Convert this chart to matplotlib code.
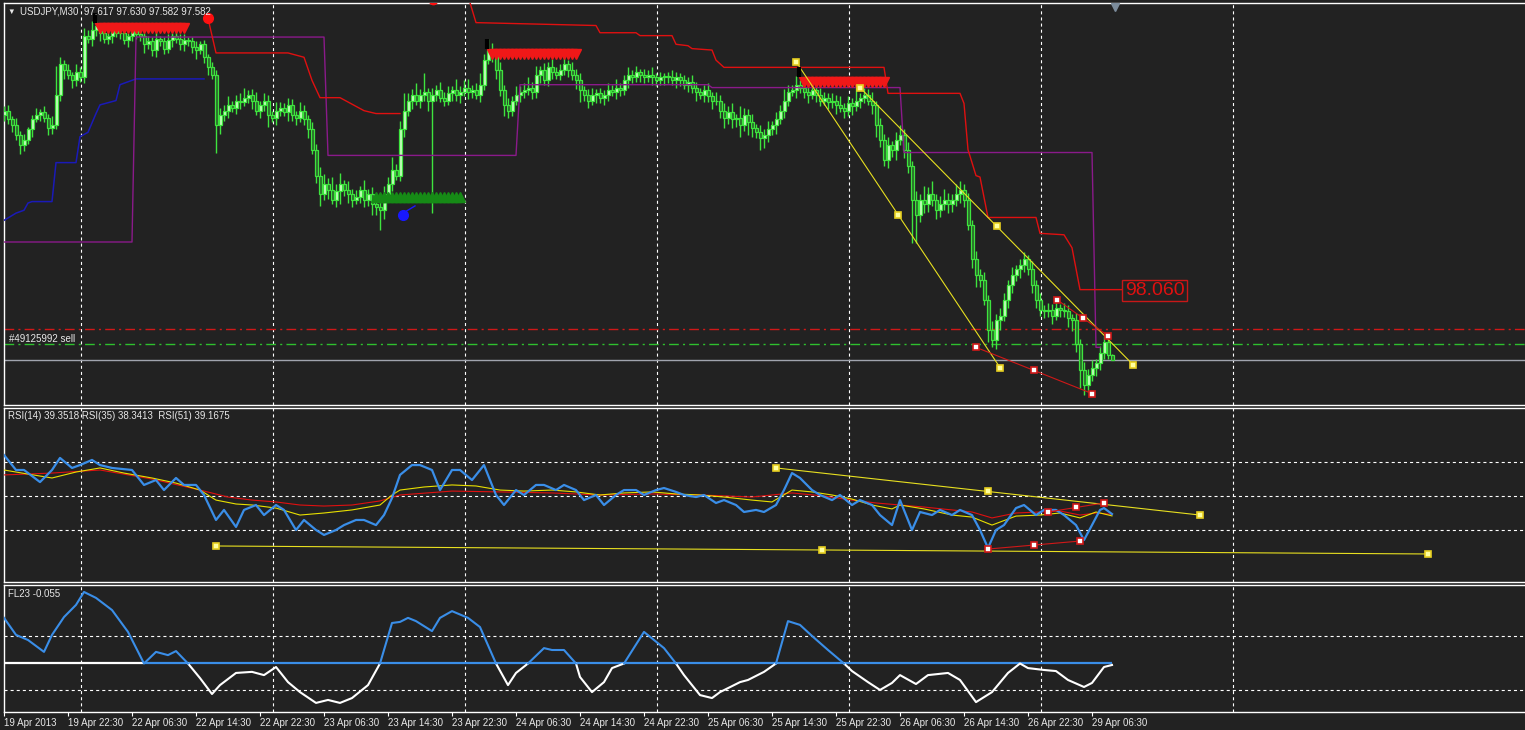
import numpy as np
import matplotlib.pyplot as plt

plt.rcParams['font.family'] = ['Liberation Sans', 'DejaVu Sans']
plt.rcParams['lines.scale_dashes'] = False

# ---------------- data ----------------
# USDJPY M30 closes, one per bar, bar 0 = 19 Apr 14:30
close = [
    99.31, 99.25, 99.21, 99.14, 99.07, 99.11, 99.18, 99.25, 99.28, 99.30,
    99.26, 99.19, 99.21, 99.42, 99.63, 99.59, 99.56, 99.52, 99.58, 99.54,
    99.83, 99.81, 99.87, 99.90, 99.85, 99.81, 99.83, 99.87, 99.85, 99.85,
    99.80, 99.83, 99.87, 99.84, 99.83, 99.77, 99.79, 99.73, 99.81, 99.79,
    99.74, 99.80, 99.83, 99.81, 99.77, 99.80, 99.79, 99.75, 99.73, 99.77,
    99.68, 99.61, 99.56, 99.21, 99.28, 99.31, 99.35, 99.33, 99.38, 99.37,
    99.40, 99.42, 99.38, 99.31, 99.35, 99.38, 99.28, 99.26, 99.31, 99.33,
    99.30, 99.35, 99.28, 99.26, 99.31, 99.25, 99.18, 99.04, 98.86, 98.73,
    98.80, 98.76, 98.69, 98.75, 98.80, 98.76, 98.73, 98.69, 98.71, 98.76,
    98.69, 98.73, 98.66, 98.64, 98.62, 98.73, 98.80, 98.90, 98.86, 99.18,
    99.31, 99.38, 99.42, 99.38, 99.42, 99.44, 99.38, 99.42, 99.45, 99.40,
    99.38, 99.43, 99.45, 99.42, 99.44, 99.47, 99.44, 99.45, 99.42, 99.49,
    99.66, 99.73, 99.70, 99.59, 99.45, 99.35, 99.31, 99.38, 99.42, 99.44,
    99.45, 99.47, 99.44, 99.56, 99.59, 99.52, 99.61, 99.58, 99.56, 99.59,
    99.63, 99.59, 99.56, 99.52, 99.45, 99.42, 99.38, 99.42, 99.43, 99.40,
    99.42, 99.45, 99.44, 99.47, 99.45, 99.52, 99.56, 99.54, 99.58, 99.56,
    99.54, 99.56, 99.54, 99.52, 99.54, 99.55, 99.54, 99.52, 99.54, 99.52,
    99.49, 99.51, 99.47, 99.44, 99.42, 99.45, 99.41, 99.38, 99.38, 99.31,
    99.26, 99.30, 99.25, 99.26, 99.21, 99.28, 99.23, 99.19, 99.16, 99.12,
    99.14, 99.18, 99.21, 99.25, 99.31, 99.38, 99.44, 99.45, 99.49, 99.47,
    99.44, 99.42, 99.45, 99.42, 99.38, 99.40, 99.37, 99.38, 99.35, 99.33,
    99.31, 99.36, 99.34, 99.38, 99.40, 99.42, 99.38, 99.35, 99.21, 99.11,
    98.97, 99.07, 99.04, 99.11, 99.14, 99.04, 98.93, 98.69, 98.59, 98.69,
    98.66, 98.73, 98.69, 98.62, 98.66, 98.69, 98.66, 98.69, 98.73, 98.76,
    98.69, 98.52, 98.28, 98.17, 98.14, 98.00, 97.79, 97.72, 97.86, 97.89,
    98.00, 98.10, 98.17, 98.21, 98.24, 98.28, 98.21, 98.10, 98.00, 97.93,
    97.92, 97.93, 97.89, 97.94, 97.93, 97.92, 97.87, 97.86, 97.69, 97.51,
    97.41, 97.48, 97.53, 97.56, 97.63, 97.71, 97.617, 97.582,
]
first_open = 99.28
# wick lengths in pips
up_wick = [
    3, 4, 2, 5, 3, 4, 2, 3, 5, 2, 4, 3, 6, 20, 5, 3, 4, 2, 5, 3,
    5, 4, 6, 3, 2, 4, 3, 5, 2, 3, 4, 2, 3, 5, 3, 2, 4, 3, 5, 2,
    3, 4, 2, 5, 3, 4, 2, 3, 4, 2, 3, 2, 4, 3, 5, 4, 6, 3, 4, 5,
    7, 3, 4, 6, 3, 5, 4, 3, 6, 4, 3, 5, 4, 3, 6, 4, 3, 5, 4, 6,
    7, 4, 9, 5, 8, 3, 6, 4, 5, 3, 7, 4, 5, 3, 4, 6, 5, 9, 4, 6,
    12, 5, 4, 8, 4, 13, 3, 5, 4, 6, 4, 5, 3, 8, 4, 5, 6, 4, 5, 8,
    4, 8, 5, 4, 6, 4, 5, 3, 6, 4, 5, 7, 4, 6, 3, 5, 4, 6, 3, 4,
    5, 3, 6, 4, 5, 3, 4, 5, 3, 4, 3, 5, 4, 6, 3, 4, 5, 3, 4, 2,
    4, 3, 5, 3, 4, 2, 3, 5, 4, 3, 4, 3, 5, 4, 3, 4, 5, 3, 6, 4,
    5, 4, 6, 3, 8, 5, 4, 6, 3, 5, 4, 6, 3, 5, 4, 8, 5, 4, 6, 3,
    5, 4, 6, 3, 5, 4, 3, 5, 4, 6, 3, 5, 4, 10, 3, 5, 4, 6, 3, 5,
    4, 6, 3, 5, 7, 4, 5, 3, 6, 4, 10, 5, 9, 4, 6, 8, 5, 4, 7, 6,
    4, 5, 3, 6, 4, 5, 3, 6, 4, 5, 5, 4, 6, 3, 4, 5, 3, 6, 4, 5,
    3, 5, 4, 6, 3, 5, 4, 3, 5, 4, 6, 4, 5, 3, 5, 4, 3, 1,
]
dn_wick = [
    4, 3, 5, 3, 6, 4, 3, 5, 2, 4, 3, 5, 4, 3, 4, 6, 3, 5, 4, 3,
    4, 3, 5, 4, 6, 3, 4, 5, 3, 4, 3, 5, 4, 3, 4, 6, 3, 4, 5, 3,
    4, 3, 5, 3, 4, 5, 3, 4, 6, 3, 4, 5, 3, 19, 6, 4, 5, 3, 4, 5,
    3, 4, 6, 3, 5, 4, 8, 3, 5, 4, 3, 6, 4, 5, 3, 4, 6, 3, 5, 8,
    4, 6, 3, 5, 9, 4, 6, 5, 3, 4, 5, 4, 7, 5, 14, 6, 4, 5, 3, 4,
    5, 4, 6, 3, 5, 4, 7, 78, 4, 3, 4, 3, 5, 4, 6, 3, 5, 4, 3, 5,
    4, 3, 5, 6, 4, 8, 5, 4, 3, 5, 4, 3, 5, 4, 6, 3, 4, 5, 3, 4,
    3, 5, 4, 6, 8, 4, 5, 3, 6, 4, 5, 4, 3, 5, 4, 3, 5, 4, 3, 5,
    4, 3, 5, 4, 3, 5, 4, 3, 5, 4, 3, 5, 4, 6, 3, 5, 4, 6, 3, 5,
    7, 4, 6, 5, 8, 4, 9, 6, 4, 8, 7, 5, 4, 6, 3, 5, 4, 3, 5, 4,
    4, 6, 3, 5, 4, 3, 5, 4, 6, 3, 5, 4, 6, 3, 5, 4, 3, 6, 8, 5,
    4, 6, 5, 7, 4, 6, 5, 30, 20, 5, 6, 5, 4, 6, 5, 4, 6, 5, 4, 6,
    5, 4, 6, 8, 5, 4, 8, 5, 6, 7, 4, 6, 5, 4, 6, 5, 4, 5, 6, 4,
    5, 4, 6, 3, 5, 4, 6, 8, 5, 12, 7, 5, 4, 6, 5, 4, 3, 0,
]

# indicator lines on the price chart (bar index, price)
blue_band_i = [0, 3, 5, 6, 7, 12, 13, 18, 19, 21, 23, 24, 28, 29, 32, 33, 50]
blue_band_p = [98.55, 98.60, 98.62, 98.67, 98.68, 98.68, 98.95, 98.95, 99.13, 99.16,
               99.29, 99.35, 99.38, 99.49, 99.52, 99.53, 99.53]
purple_i = [0, 32, 33, 80, 81, 128, 129, 176, 177, 224, 225, 272, 273, 274]
purple_p = [98.40, 98.40, 99.82, 99.82, 99.00, 99.00, 99.49, 99.49, 99.47, 99.47,
            99.02, 99.02, 97.67, 97.67]
red1_i = [51, 53, 71, 75, 77, 79, 84, 90, 93, 99]
red1_p = [99.95, 99.71, 99.71, 99.68, 99.52, 99.40, 99.40, 99.31, 99.29, 99.29]
red2_i = [115.5, 118, 148, 149, 158, 159, 167, 168, 171, 172, 177, 178, 180, 220, 221,
          239, 240, 241, 243, 244, 246, 258, 259, 265, 267, 269, 280]
red2_p = [100.15, 99.92, 99.90, 99.85, 99.85, 99.83, 99.83, 99.77, 99.76, 99.74, 99.73,
          99.66, 99.61, 99.61, 99.43, 99.43, 99.36, 99.04, 98.86, 98.85, 98.57, 98.57,
          98.46, 98.45, 98.36, 98.07, 98.07]
sell_zones = [(24, 45, 99.88), (122, 143, 99.70), (200, 220, 99.51)]
buy_zone = (93, 114, 98.71)
stop_level = 97.797
order_level = 97.693
bid = 97.582
label_price = 98.060

# trendlines: (bar0, value0, bar1, value1)
price_channel = [(198, 99.65, 249, 97.53), (214, 99.47, 282.25, 97.55)]
price_red_lines = [(243, 97.67, 272, 97.35), (263.25, 98.00, 276, 97.75)]
rsi_yellow_lines = [(193, 66.5, 299, 38.8), (53, 20.6, 356, 15.9)]
rsi_red_lines = [(246, 18.8, 269, 23.5), (261, 40.6, 275, 45.9)]

# RSI panel
rsi14_i = [0, 3, 5, 9, 12, 14, 17, 19, 22, 24, 27, 32, 35, 38, 40, 43, 45, 48, 50, 53,
           55, 58, 60, 63, 65, 68, 70, 73, 75, 78, 80, 83, 85, 88, 90, 93, 95, 97, 99, 102,
           104, 107, 109, 112, 114, 117, 120, 123, 125, 128, 130, 133, 135, 138, 140, 143,
           145, 148, 150, 153, 155, 158, 160, 163, 165, 168, 170, 173, 175, 178, 180, 183,
           185, 188, 190, 193, 195, 197, 199, 202, 204, 207, 209, 212, 214, 217, 219, 222,
           224, 227, 229, 232, 234, 237, 239, 242, 244, 246, 248, 250, 253, 255, 258, 260,
           263, 265, 268, 270, 272, 274, 275, 277]
rsi14 = [74.1, 65.3, 65.3, 58.2, 65.3, 72.4, 66.5, 68.2, 71.2, 68.2, 66.5, 65.3, 56.5, 59.4,
         53.5, 60.6, 56.5, 56.5, 50.6, 35.9, 41.8, 31.8, 41.8, 44.7, 38.8, 44.7, 41.8, 30.0,
         35.9, 30.0, 27.1, 30.0, 32.9, 35.9, 35.9, 32.9, 38.8, 48.8, 62.4, 68.2, 68.2, 65.3,
         53.5, 65.3, 65.3, 59.4, 68.2, 50.6, 44.7, 53.5, 50.6, 56.5, 56.5, 53.5, 56.5, 53.5,
         47.6, 50.6, 44.7, 50.6, 53.5, 53.5, 50.6, 53.5, 54.7, 52.4, 50.6, 49.4, 50.6, 45.9,
         47.6, 44.7, 40.6, 41.8, 40.6, 44.7, 53.5, 63.5, 60.6, 53.5, 50.6, 47.6, 50.6, 44.7,
         47.6, 44.7, 38.8, 32.9, 47.6, 30.0, 40.6, 38.8, 41.8, 38.8, 41.8, 38.8, 30.0, 19.4,
         30.0, 32.9, 42.9, 44.7, 38.8, 41.8, 41.8, 38.8, 32.9, 24.1, 32.9, 41.8, 42.9, 39.4]
rsi35_i = [0, 6, 12, 18, 24, 30, 37, 43, 49, 53, 58, 62, 68, 74, 80, 87, 94, 97, 99, 105,
           112, 118, 124, 130, 137, 143, 149, 155, 162, 168, 174, 180, 187, 192, 197, 202,
           207, 212, 217, 222, 224, 230, 237, 242, 247, 253, 259, 264, 269, 273, 277]
rsi35 = [65.3, 62.9, 60.6, 64.1, 66.5, 63.5, 60.6, 57.6, 53.5, 47.6, 45.3, 44.7, 42.9,
         38.8, 40.0, 41.8, 44.7, 50.6, 53.5, 55.3, 56.5, 55.9, 53.5, 52.9, 53.5, 52.4, 50.6,
         51.8, 52.4, 51.2, 50.6, 49.4, 47.6, 46.5, 53.5, 52.4, 50.6, 48.2, 44.7, 42.4, 44.7,
         42.4, 38.8, 37.6, 32.9, 38.2, 38.8, 40.0, 37.1, 40.6, 38.3]
rsi51_i = [0, 12, 24, 37, 49, 56, 62, 68, 74, 80, 87, 94, 99, 112, 124, 137, 149, 162,
           174, 187, 197, 205, 212, 218, 224, 230, 237, 242, 247, 253, 259, 264, 269, 273, 277]
rsi51 = [62.4, 63.5, 65.3, 60.0, 53.5, 49.4, 47.6, 46.5, 44.7, 44.1, 44.7, 47.1, 50.6,
         52.9, 52.4, 51.8, 50.6, 51.2, 50.6, 49.4, 51.8, 50.0, 47.6, 45.9, 44.7, 43.5, 41.8,
         40.6, 37.1, 40.0, 40.6, 41.2, 38.8, 40.0, 39.2]

# FL23 panel
fl_i = [0, 3, 6, 10, 12, 15, 18, 20, 23, 27, 31, 35, 38, 41, 43, 46, 49, 52, 54, 58,
        62, 65, 68, 71, 74, 78, 81, 84, 87, 91, 94, 97, 99, 101, 103, 107, 109, 112, 116, 119,
        123, 126, 128, 131, 135, 137, 140, 143, 144, 147, 150, 152, 155, 160, 165, 168, 170, 174, 177, 179,
        184, 186, 190, 193, 196, 199, 202, 206, 210, 212, 216, 219, 222, 224, 228, 231, 236, 239, 243, 247,
        251, 254, 256, 260, 263, 266, 270, 272, 275, 277]
fl = [1.69, 1.06, 0.87, 0.43, 1.06, 1.72, 2.17, 2.65, 2.43, 1.98,
      1.17, 0, 0.43, 0.31, 0.46, 0, -0.54, -1.13, -0.80, -0.35,
      -0.31, -0.43, -0.13, -0.69, -1.06, -1.46, -1.35, -1.46, -1.28, -0.80,
      0, 1.50, 1.54, 1.69, 1.57, 1.20, 1.69, 1.94, 1.69, 1.35,
      0, -0.80, -0.35, 0, 0.57, 0.50, 0.50, 0, -0.50, -1.06,
      -0.69, -0.17, 0, 1.17, 0.57, 0, -0.43, -1.17, -1.28, -1.06,
      -0.69, -0.61, -0.31, 0, 1.57, 1.43, 1.02, 0.50, 0, -0.28,
      -0.69, -0.98, -0.72, -0.43, -0.76, -0.43, -0.35, -0.61, -1.43, -1.06,
      -0.35, 0, -0.17, -0.24, -0.28, -0.61, -0.87, -0.72, -0.13, -0.055]

tick_bars = list(range(0, 273, 16))
tick_labels = ['19 Apr 2013', '19 Apr 22:30', '22 Apr 06:30', '22 Apr 14:30', '22 Apr 22:30',
               '23 Apr 06:30', '23 Apr 14:30', '23 Apr 22:30', '24 Apr 06:30', '24 Apr 14:30',
               '24 Apr 22:30', '25 Apr 06:30', '25 Apr 14:30', '25 Apr 22:30', '26 Apr 06:30',
               '26 Apr 14:30', '26 Apr 22:30', '29 Apr 06:30']
day_lines = [19.25 + 48 * k for k in range(7)]

# ---------------- drawing ----------------
W, H = 1525, 730
BG = '#222222'
FG = '#e8e8e8'
GREEN = '#3ee43e'
RED = '#e01010'

fig = plt.figure(figsize=(W / 100, H / 100), dpi=100, facecolor=BG)


def panel(top, bottom, ylim):
    ax = fig.add_axes([3.5 / W, 1 - bottom / H, (W - 3.5) / W, (bottom - top) / H], facecolor=BG)
    ax.set_xlim(-0.125, 380.25)
    ax.set_ylim(*ylim)
    for s in ['left', 'top', 'bottom']:
        ax.spines[s].set_color('white')
        ax.spines[s].set_linewidth(1)
    ax.spines['right'].set_visible(False)
    ax.set_yticks([])
    ax.tick_params(axis='x', bottom=False, labelbottom=False)
    for g in day_lines:
        ax.axvline(g, color='white', lw=0.8, ls=(0, (2.2, 2.2)), zorder=1)
    return ax


def trend(ax, lines, color, mfc, mec, ms):
    for i0, v0, i1, v1 in lines:
        ax.plot([i0, i1], [v0, v1], color=color, lw=0.8, zorder=6)
        ax.plot([i0, (i0 + i1) / 2, i1], [v0, (v0 + v1) / 2, v1], ls='none', marker='s',
                ms=ms, mfc=mfc, mec=mec, mew=1.2, zorder=7)


# main price panel
ax = panel(3, 404.5, (97.274, 100.056))
c = np.array(close)
o = np.r_[first_open, c[:-1]]
hi = np.maximum(o, c) + np.array(up_wick) / 100
lo = np.minimum(o, c) - np.array(dn_wick) / 100
x = np.arange(len(c))
up = c >= o
ax.vlines(x, lo, hi, color=GREEN, lw=1, zorder=3)
ax.bar(x[up], (c - o)[up], 0.75, o[up], color='#c8ffc0', edgecolor=GREEN, lw=0.9, zorder=4)
ax.bar(x[~up], (o - c)[~up], 0.75, c[~up], color='#2a6a2a', edgecolor=GREEN, lw=0.9, zorder=4)

ax.axhline(stop_level, color='#d01818', lw=1, ls=(0, (7, 3, 1.5, 3)), zorder=2)
ax.axhline(order_level, color='#2ec02e', lw=1, ls=(0, (7, 3, 1.5, 3)), zorder=2)
ax.axhline(bid, color='#a0a4ae', lw=1, zorder=2)

ax.plot(blue_band_i, blue_band_p, color='#1a1ab8', lw=1.1, zorder=5)
ax.plot(purple_i, purple_p, color='#8a1a8a', lw=1, zorder=5)
ax.plot(red1_i, red1_p, color=RED, lw=1, zorder=5)
ax.plot(red2_i, red2_p, color=RED, lw=1, zorder=5)

for b0, b1, lvl in sell_zones:
    zb = np.arange(b0, b1 + 1)
    ax.plot(zb, np.full(len(zb), lvl), ls='none', marker='v', ms=6.5, color='#f01818', zorder=6)
    ax.plot(b0 - 1.3, lvl + 0.07, marker='|', ms=7, mew=3, color='black', zorder=7)
zb = np.arange(buy_zone[0], buy_zone[1] + 1)
ax.plot(zb, np.full(len(zb), buy_zone[2]), ls='none', marker='^', ms=6.5, color='#168a16', zorder=6)

ax.plot(51, 99.95, 'o', ms=7, color='#ff1010', zorder=8)
ax.plot(107.3, 100.075, 'o', ms=6, color='#ff1010', zorder=8)
ax.plot(99.75, 98.59, 'o', ms=7, color='#1818ff', zorder=8)
ax.plot([99.75, 102.75], [98.60, 98.65], color='#1818ff', lw=1, zorder=8)
ax.plot(277.75, 100.03, marker='v', ms=6, color='#7c8c9c', zorder=8)

trend(ax, price_channel, '#e8e020', '#ffffa0', '#e8d020', 4.5)
trend(ax, price_red_lines, '#d01818', 'white', '#d01818', 4.2)

ax.text(280.2, label_price + 0.003, f'{label_price:.3f}', color=RED, fontsize=14, va='center',
        ha='left', zorder=9,
        bbox=dict(boxstyle='square,pad=0.12', fc=BG, ec='#c81818', lw=1))

# RSI panel
ar = panel(407.5, 581.5, (-0.29, 102.06))
for lvl in (70, 50, 30):
    ar.axhline(lvl, color='white', lw=0.8, ls=(0, (2.2, 2.2)), zorder=1)
ar.plot(rsi51_i, rsi51, color=RED, lw=0.8, zorder=3)
ar.plot(rsi35_i, rsi35, color='#e8e000', lw=0.8, zorder=3)
ar.plot(rsi14_i, rsi14, color='#3a8ee8', lw=1.6, zorder=4)
trend(ar, rsi_yellow_lines, '#e8e020', '#ffffa0', '#e8d020', 4.5)
trend(ar, rsi_red_lines, '#d01818', 'white', '#d01818', 4.2)

# FL23 panel
af = panel(584.5, 711.5, (-1.778, 2.926))
for lvl in (1, -1):
    af.axhline(lvl, color='white', lw=0.8, ls=(0, (2.2, 2.2)), zorder=1)
fv = np.array(fl)
af.hlines(0, -0.125, 35, color='white', lw=1.6, zorder=3)
af.hlines(0, 35, 277, color='#3a8ee8', lw=1.6, zorder=4)
af.plot(fl_i, np.where(fv <= 0, fv, np.nan), color='white', lw=1.5, zorder=5)
af.plot(fl_i, np.where(fv >= 0, fv, np.nan), color='#3a8ee8', lw=1.5, zorder=5)

af.set_xticks(tick_bars)
af.set_xticklabels(tick_labels, ha='left')
af.tick_params(axis='x', bottom=True, labelbottom=True, direction='out', length=3,
               width=0.8, color='white', labelcolor=FG, labelsize=7, pad=2)


# header texts
def ftext(px, py, s, size=7):
    fig.text(px / W, 1 - py / H, s, va='center', ha='left', color=FG, fontsize=size)


ftext(7, 12, '\u25bc', size=5.5)
ftext(20, 12, 'USDJPY,M30  97.617 97.630 97.582 97.582')
ftext(9, 339, '#49125992 sell')
ftext(8, 416, 'RSI(14) 39.3518 RSI(35) 38.3413  RSI(51) 39.1675')
ftext(8, 594, 'FL23 -0.055')

fig.savefig('out.png', dpi=100, facecolor=BG)
